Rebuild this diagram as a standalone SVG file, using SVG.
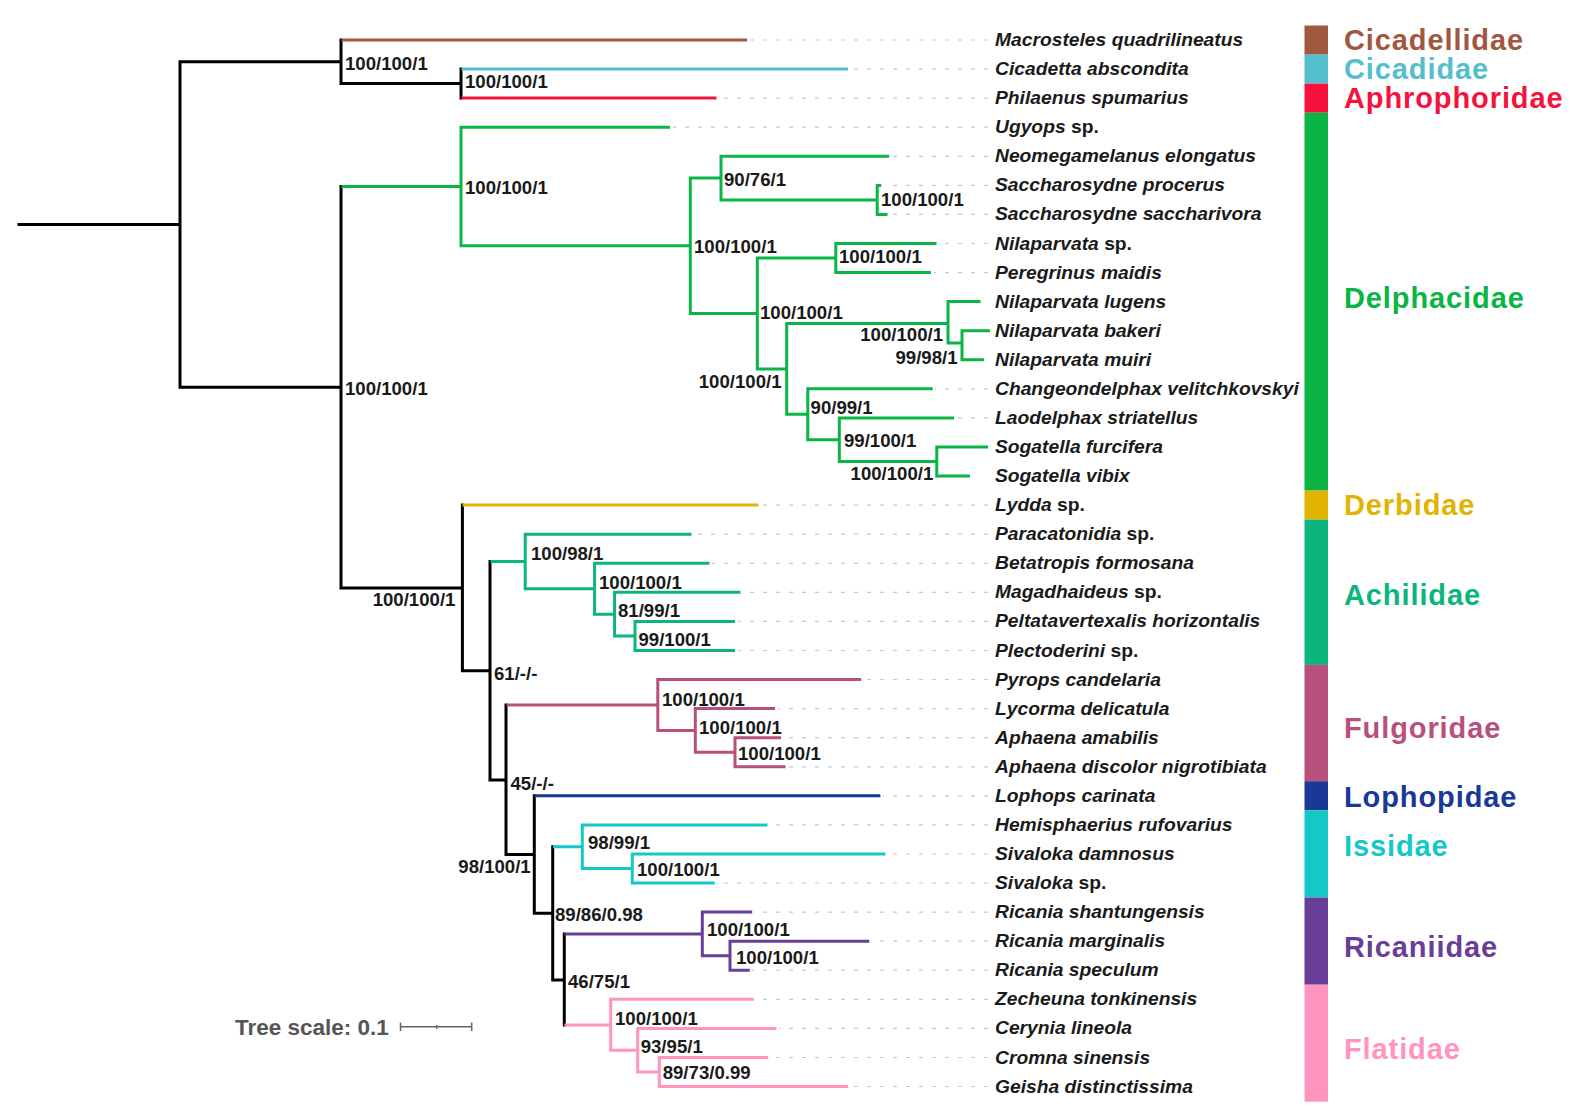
<svg xmlns="http://www.w3.org/2000/svg" width="1584" height="1118" viewBox="0 0 1584 1118">
<style>
.br{fill:none;stroke-width:3;stroke-linecap:square}
.k{stroke:#000}
.dash{fill:none;stroke:#c8c8c8;stroke-width:1.2;stroke-dasharray:4 9}
.lf{font-family:"Liberation Sans",Arial,sans-serif;font-size:19.25px;font-weight:bold;font-style:italic;fill:#1a1a1a}
.up{font-style:normal}
.bs{font-family:"Liberation Sans",Arial,sans-serif;font-size:18.6px;font-weight:bold;fill:#1a1a1a}
.fam{font-family:"Liberation Sans",Arial,sans-serif;font-size:29px;font-weight:bold;letter-spacing:0.9px}
.e{text-anchor:end}
</style>
<rect width="1584" height="1118" fill="#fff"/>
<g id="connectors">
<path class="br k" d="M19,224.5H180M180,61.8V387.2M180,61.8H341M341,40V83.6M341,83.6H461M461,69.1V98.1M180,387.2H341M341,186.5V588M341,588H462.4M462.4,505.1V670.7M462.4,670.7H490M490,561.5V780M490,780H506M506,705V854.6M506,854.6H534.3M534.3,795.8V913.3M534.3,913.3H552.7M552.7,846.7V980M552.7,980H564.3M564.3,933.9V1025"/>
<path class="br" stroke="#A0583F" d="M343,40H745.5"/>
<path class="br" stroke="#55BECE" d="M463,69.1H846.5"/>
<path class="br" stroke="#F5133D" d="M463,98.1H715"/>
<path class="br" stroke="#0AB445" d="M343,186.5H461M461,127.2V245.7M461,127.2H668.5M461,245.7H690.3M690.3,178V313.5M690.3,178H721M721,156.3V199.9M721,156.3H887.7M721,199.9H877.2M877.2,185.4V214.4M877.2,185.4H879.7M877.2,214.4H886M690.3,313.5H757.3M757.3,258V369M757.3,258H835.8M835.8,243.5V272.6M835.8,243.5H935M835.8,272.6H929.5M757.3,369H786.7M786.7,323.5V414.3M786.7,323.5H948M948,301.6V343M948,301.6H979M948,343H962M962,330.7V359.8M962,330.7H988.4M962,359.8H982.4M786.7,414.3H807.8M807.8,388.8V439.7M807.8,388.8H931.2M807.8,439.7H839.3M839.3,417.9V461.5M839.3,417.9H952.6M839.3,461.5H936.8M936.8,447V476M936.8,447H986.6M936.8,476H968.4"/>
<path class="br" stroke="#E0B400" d="M464,505.1H757"/>
<path class="br" stroke="#0AB57E" d="M492,561.5H525.2M525.2,534.2V588.8M525.2,534.2H690M525.2,588.8H594.6M594.6,563.3V614.2M594.6,563.3H708M594.6,614.2H614.6M614.6,592.3V636M614.6,592.3H739M614.6,636H635M635,621.4V650.5M635,621.4H733.5M635,650.5H733.5"/>
<path class="br" stroke="#B8507E" d="M508,705H657.8M657.8,679.5V730.4M657.8,679.5H859.7M657.8,730.4H695.3M695.3,708.6V752.2M695.3,708.6H773.5M695.3,752.2H735M735,737.7V766.8M735,737.7H779.5M735,766.8H784"/>
<path class="br" stroke="#1A3896" d="M536,795.8H878.9"/>
<path class="br" stroke="#14C8C8" d="M554.5,846.7H582.3M582.3,824.9V868.5M582.3,824.9H766M582.3,868.5H632.3M632.3,854V883M632.3,854H884M632.3,883H713.3"/>
<path class="br" stroke="#693E98" d="M566,933.9H702.3M702.3,912.1V955.7M702.3,912.1H750.7M702.3,955.7H730M730,941.2V970.2M730,941.2H867.7M730,970.2H748.3"/>
<path class="br" stroke="#FF94BF" d="M566,1025H610.7M610.7,999.3V1050.2M610.7,999.3H752.3M610.7,1050.2H637.7M637.7,1028.4V1072M637.7,1028.4H775M637.7,1072H659.3M659.3,1057.5V1086.5M659.3,1057.5H766.7M659.3,1086.5H846.7"/>
<path class="dash" d="M988,40H750M988,69.1H851M988,98.1H719M988,127.2H673M988,156.3H892M988,185.4H884M988,214.4H890M988,243.5H939M988,272.6H934M988,388.8H935M988,417.9H957M988,505.1H761M988,534.2H694M988,563.3H712M988,592.3H743M988,621.4H738M988,650.5H738M988,679.5H864M988,708.6H778M988,737.7H784M988,766.8H788M988,795.8H883M988,824.9H770M988,854H888M988,883H717M988,912.1H755M988,941.2H872M988,970.2H752M988,999.3H756M988,1028.4H779M988,1057.5H771M988,1086.5H851"/>
</g>
<g id="support">
<text class="bs" x="345" y="70">100/100/1</text>
<text class="bs" x="465" y="88">100/100/1</text>
<text class="bs" x="345" y="395">100/100/1</text>
<text class="bs" x="465" y="194">100/100/1</text>
<text class="bs" x="724" y="186">90/76/1</text>
<text class="bs" x="881" y="206">100/100/1</text>
<text class="bs" x="694" y="253">100/100/1</text>
<text class="bs" x="839" y="263">100/100/1</text>
<text class="bs" x="760" y="319">100/100/1</text>
<text class="bs e" x="943" y="341">100/100/1</text>
<text class="bs e" x="957.5" y="364">99/98/1</text>
<text class="bs e" x="781.5" y="388">100/100/1</text>
<text class="bs" x="810.6" y="414">90/99/1</text>
<text class="bs" x="844" y="447">99/100/1</text>
<text class="bs e" x="933.3" y="480">100/100/1</text>
<text class="bs e" x="455.4" y="606">100/100/1</text>
<text class="bs" x="531" y="560">100/98/1</text>
<text class="bs" x="599" y="589">100/100/1</text>
<text class="bs" x="618" y="616.5">81/99/1</text>
<text class="bs" x="638.5" y="645.5">99/100/1</text>
<text class="bs" x="494" y="680">61/-/-</text>
<text class="bs" x="662" y="705.5">100/100/1</text>
<text class="bs" x="699" y="734">100/100/1</text>
<text class="bs" x="738" y="760">100/100/1</text>
<text class="bs" x="510.5" y="790">45/-/-</text>
<text class="bs e" x="530.7" y="872.5">98/100/1</text>
<text class="bs" x="588" y="849">98/99/1</text>
<text class="bs" x="637" y="875.5">100/100/1</text>
<text class="bs" x="555" y="920.5">89/86/0.98</text>
<text class="bs" x="707" y="935.5">100/100/1</text>
<text class="bs" x="736" y="964">100/100/1</text>
<text class="bs" x="568" y="988">46/75/1</text>
<text class="bs" x="615" y="1025">100/100/1</text>
<text class="bs" x="640.7" y="1053">93/95/1</text>
<text class="bs" x="662.7" y="1079">89/73/0.99</text>
</g>
<g id="leaves">
<g id="leaf-01"><text class="lf" x="995" y="46">Macrosteles quadrilineatus</text></g>
<g id="leaf-02"><text class="lf" x="995" y="75.1">Cicadetta abscondita</text></g>
<g id="leaf-03"><text class="lf" x="995" y="104.1">Philaenus spumarius</text></g>
<g id="leaf-04"><text class="lf" x="995" y="133.2">Ugyops <tspan class="up">sp.</tspan></text></g>
<g id="leaf-05"><text class="lf" x="995" y="162.3">Neomegamelanus elongatus</text></g>
<g id="leaf-06"><text class="lf" x="995" y="191.4">Saccharosydne procerus</text></g>
<g id="leaf-07"><text class="lf" x="995" y="220.4">Saccharosydne saccharivora</text></g>
<g id="leaf-08"><text class="lf" x="995" y="249.5">Nilaparvata <tspan class="up">sp.</tspan></text></g>
<g id="leaf-09"><text class="lf" x="995" y="278.6">Peregrinus maidis</text></g>
<g id="leaf-10"><text class="lf" x="995" y="307.6">Nilaparvata lugens</text></g>
<g id="leaf-11"><text class="lf" x="995" y="336.7">Nilaparvata bakeri</text></g>
<g id="leaf-12"><text class="lf" x="995" y="365.8">Nilaparvata muiri</text></g>
<g id="leaf-13"><text class="lf" x="995" y="394.8">Changeondelphax velitchkovskyi</text></g>
<g id="leaf-14"><text class="lf" x="995" y="423.9">Laodelphax striatellus</text></g>
<g id="leaf-15"><text class="lf" x="995" y="453">Sogatella furcifera</text></g>
<g id="leaf-16"><text class="lf" x="995" y="482">Sogatella vibix</text></g>
<g id="leaf-17"><text class="lf" x="995" y="511.1">Lydda <tspan class="up">sp.</tspan></text></g>
<g id="leaf-18"><text class="lf" x="995" y="540.2">Paracatonidia <tspan class="up">sp.</tspan></text></g>
<g id="leaf-19"><text class="lf" x="995" y="569.3">Betatropis formosana</text></g>
<g id="leaf-20"><text class="lf" x="995" y="598.3">Magadhaideus <tspan class="up">sp.</tspan></text></g>
<g id="leaf-21"><text class="lf" x="995" y="627.4">Peltatavertexalis horizontalis</text></g>
<g id="leaf-22"><text class="lf" x="995" y="656.5">Plectoderini <tspan class="up">sp.</tspan></text></g>
<g id="leaf-23"><text class="lf" x="995" y="685.5">Pyrops candelaria</text></g>
<g id="leaf-24"><text class="lf" x="995" y="714.6">Lycorma delicatula</text></g>
<g id="leaf-25"><text class="lf" x="995" y="743.7">Aphaena amabilis</text></g>
<g id="leaf-26"><text class="lf" x="995" y="772.8">Aphaena discolor nigrotibiata</text></g>
<g id="leaf-27"><text class="lf" x="995" y="801.8">Lophops carinata</text></g>
<g id="leaf-28"><text class="lf" x="995" y="830.9">Hemisphaerius rufovarius</text></g>
<g id="leaf-29"><text class="lf" x="995" y="860">Sivaloka damnosus</text></g>
<g id="leaf-30"><text class="lf" x="995" y="889">Sivaloka <tspan class="up">sp.</tspan></text></g>
<g id="leaf-31"><text class="lf" x="995" y="918.1">Ricania shantungensis</text></g>
<g id="leaf-32"><text class="lf" x="995" y="947.2">Ricania marginalis</text></g>
<g id="leaf-33"><text class="lf" x="995" y="976.2">Ricania speculum</text></g>
<g id="leaf-34"><text class="lf" x="995" y="1005.3">Zecheuna tonkinensis</text></g>
<g id="leaf-35"><text class="lf" x="995" y="1034.4">Cerynia lineola</text></g>
<g id="leaf-36"><text class="lf" x="995" y="1063.5">Cromna sinensis</text></g>
<g id="leaf-37"><text class="lf" x="995" y="1092.5">Geisha distinctissima</text></g>
</g>
<g id="families">
<g id="fam-cicadellidae"><rect x="1304.5" y="25.5" width="23.5" height="29.1" fill="#A0583F"/><text class="fam" x="1344" y="49.5" fill="#A0583F">Cicadellidae</text></g>
<g id="fam-cicadidae"><rect x="1304.5" y="54.5" width="23.5" height="29.1" fill="#55BECE"/><text class="fam" x="1344" y="78.5" fill="#55BECE">Cicadidae</text></g>
<g id="fam-aphrophoridae"><rect x="1304.5" y="83.6" width="23.5" height="29.1" fill="#F5133D"/><text class="fam" x="1344" y="107.5" fill="#F5133D">Aphrophoridae</text></g>
<g id="fam-delphacidae"><rect x="1304.5" y="112.7" width="23.5" height="377.9" fill="#0AB445"/><text class="fam" x="1344" y="308" fill="#0AB445">Delphacidae</text></g>
<g id="fam-derbidae"><rect x="1304.5" y="490.5" width="23.5" height="29.1" fill="#E0B400"/><text class="fam" x="1344" y="514.5" fill="#E0B400">Derbidae</text></g>
<g id="fam-achilidae"><rect x="1304.5" y="519.6" width="23.5" height="145.3" fill="#0AB57E"/><text class="fam" x="1344" y="604.5" fill="#0AB57E">Achilidae</text></g>
<g id="fam-fulgoridae"><rect x="1304.5" y="664.9" width="23.5" height="116.3" fill="#B8507E"/><text class="fam" x="1344" y="738" fill="#B8507E">Fulgoridae</text></g>
<g id="fam-lophopidae"><rect x="1304.5" y="781.2" width="23.5" height="29.1" fill="#1A3896"/><text class="fam" x="1344" y="806.5" fill="#1A3896">Lophopidae</text></g>
<g id="fam-issidae"><rect x="1304.5" y="810.3" width="23.5" height="87.2" fill="#14C8C8"/><text class="fam" x="1344" y="856" fill="#14C8C8">Issidae</text></g>
<g id="fam-ricaniidae"><rect x="1304.5" y="897.5" width="23.5" height="87.2" fill="#693E98"/><text class="fam" x="1344" y="957" fill="#693E98">Ricaniidae</text></g>
<g id="fam-flatidae"><rect x="1304.5" y="984.7" width="23.5" height="117" fill="#FF94BF"/><text class="fam" x="1344" y="1059" fill="#FF94BF">Flatidae</text></g>
</g>
<g id="scale">
<text x="235" y="1034.5" font-family="Liberation Sans,Arial,sans-serif" font-size="22.5" font-weight="bold" fill="#555">Tree scale: 0.1</text>
<path d="M400.5,1026.7H471.7M400.5,1022.5V1031M471.7,1022.5V1031M436.7,1025V1029" fill="none" stroke="#666" stroke-width="1.5"/>
</g>
</svg>
